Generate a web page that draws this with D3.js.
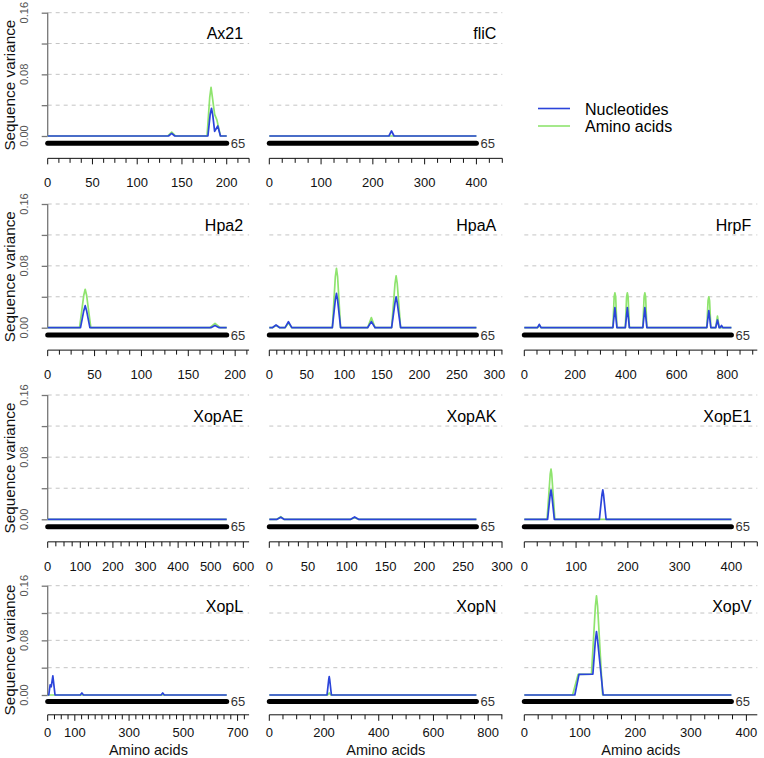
<!DOCTYPE html>
<html><head><meta charset="utf-8">
<script src="https://cdn.jsdelivr.net/npm/d3@7"></script>
<style>
body{margin:0;background:#fff}
svg{display:block;font-family:"Liberation Sans",Arial,Helvetica,sans-serif}
</style>
</head><body><svg id="c" width="764" height="758"></svg>
<script>
// ---------------- data ----------------
const genes = ["Ax21","fliC","Hpa2","HpaA","HrpF","XopAE","XopAK","XopE1","XopL","XopN","XopV"];
const proteinLength = [200, 400, 191, 276, 816, 549, 267, 400, 660, 757, 373];
const seqCount = [65, 65, 65, 65, 65, 65, 65, 65, 65, 65, 65];
const tickLabels = [
  [0,50,100,150,200],
  [0,100,200,300,400],
  [0,50,100,150,200],
  [0,50,100,150,200,250,300],
  [0,200,400,600,800],
  [0,100,200,300,400,500,600],
  [0,50,100,150,200,250,300],
  [0,100,200,300,400],
  [0,100,300,500,700],
  [0,200,400,600,800],
  [0,100,200,300,400]
];
const minorStep = [12.5, 25, 12.5, 10, 50, 25, 12.5, 25, 25, 50, 25];
const yTicks = [0, 0.04, 0.08, 0.12, 0.16];
const yLabels = [0, 0.08, 0.16];
const seriesNames = ["Nucleotides", "Amino acids"];

// sequence variance, [position, variance]
const ntAx21 = [[0,0],[135,0],[138.5,0.0035],[142,0],[179,0],[181.5,0.028],[183,0.036],[184.5,0.026],[186.5,0.006],[190,0.013],[193,0],[200,0]];
const aaAx21 = [[0,0],[134,0],[138.5,0.005],[143,0],[178,0],[181,0.05],[182.5,0.063],[184,0.05],[186.5,0.028],[189,0.021],[193,0],[200,0]];
const ntFliC = [[0,0],[231,0],[236,0.0065],[241,0],[400,0]];
const aaFliC = [[0,0],[400,0]];
const ntHpa2 = [[0,0],[35,0],[38.5,0.022],[40,0.0285],[41.5,0.022],[45,0],[174,0],[178.5,0.003],[183,0],[191,0]];
const aaHpa2 = [[0,0],[34,0],[38.5,0.042],[40,0.0497],[41.5,0.042],[46,0],[173,0],[178.5,0.0057],[184,0],[191,0]];
const ntHpaA = [[0,0],[4,0],[9,0.0035],[14,0],[21,0],[25.5,0.0078],[30,0],[84,0],[88,0.036],[89.5,0.0445],[91,0.036],[95,0],[131,0],[136,0.0078],[141,0],[163,0],[167.5,0.032],[169,0.040],[170.5,0.032],[175,0],[276,0]];
const aaHpaA = [[0,0],[4,0],[9,0.003],[14,0],[21,0],[25.5,0.006],[30,0],[84,0],[88,0.066],[89.5,0.0768],[91,0.066],[95,0],[131,0],[136,0.013],[141,0],[163,0],[167.5,0.057],[169,0.067],[170.5,0.057],[175,0],[276,0]];
const ntHrpF = [[0,0],[52,0],[59,0.0044],[66,0],[349,0],[357,0.026],[365,0],[398,0],[406,0.026],[414,0],[467,0],[475,0.026],[483,0],[719,0],[727,0.022],[735,0],[754,0],[761,0.010],[768,0],[772,0],[777,0.003],[782,0],[816,0]];
const aaHrpF = [[0,0],[52,0],[59,0.003],[66,0],[349,0],[354,0.04],[357,0.045],[360,0.04],[365,0],[398,0],[403,0.04],[406,0.045],[409,0.04],[414,0],[467,0],[472,0.04],[475,0.045],[478,0.04],[483,0],[719,0],[724,0.035],[727,0.040],[730,0.035],[735,0],[754,0],[761,0.015],[768,0],[816,0]];
const ntXopAE = [[0,0],[549,0]];
const aaXopAE = [[0,0],[549,0]];
const ntXopAK = [[0,0],[10,0],[14.8,0.0027],[19,0],[105,0],[110,0.003],[115,0],[267,0]];
const aaXopAK = [[0,0],[10,0],[14.8,0.0035],[19,0],[105,0],[110,0.002],[115,0],[267,0]];
const ntXopE1 = [[0,0],[45,0],[50,0.032],[51.6,0.038],[53,0.032],[58,0],[145,0],[150,0.032],[151.6,0.038],[153,0.032],[158,0],[400,0]];
const aaXopE1 = [[0,0],[44,0],[50,0.058],[51.6,0.0647],[53,0.058],[59,0],[400,0]];
const ntXopL = [[0,0],[4,0],[9,0.015],[13,0.012],[19,0.028],[27,0],[120,0],[126,0.003],[132,0],[418,0],[424,0.003],[430,0],[660,0]];
const aaXopL = [[0,0],[660,0]];
const ntXopN = [[0,0],[211,0],[217,0.022],[219,0.027],[221,0.022],[227,0],[757,0]];
const aaXopN = [[0,0],[213,0],[219,0.003],[225,0],[757,0]];
const ntXopV = [[0,0],[91,0],[98.5,0.0303],[123.5,0.0305],[128,0.08],[130,0.0927],[132,0.08],[142,0],[373,0]];
const aaXopV = [[0,0],[87,0],[97,0.0303],[121,0.0305],[128,0.13],[130,0.145],[132,0.13],[141,0],[373,0]];

const ntSeries = [ntAx21, ntFliC, ntHpa2, ntHpaA, ntHrpF, ntXopAE, ntXopAK, ntXopE1, ntXopL, ntXopN, ntXopV];
const aaSeries = [aaAx21, aaFliC, aaHpa2, aaHpaA, aaHrpF, aaXopAE, aaXopAK, aaXopE1, aaXopL, aaXopN, aaXopV];

// ---------------- layout ----------------
const cols = [{x0:47.7, w:201.4},{x0:269.3, w:233},{x0:524.3, w:233}];
const rows = [{top:12.7, bot:136},{top:204, bot:327.7},{top:395, bot:519.3},{top:585.7, bot:695}];
const cells = [[0,0],[0,1],[1,0],[1,1],[1,2],[2,0],[2,1],[2,2],[3,0],[3,1],[3,2]];
const ntColor = "#2b44da", aaColor = "#8fe46e";

const svg = d3.select("#c");

genes.forEach((g, i) => {
  const [ri, ci] = cells[i];
  const R = rows[ri], C = cols[ci];
  const L = proteinLength[i];
  const x = d3.scaleLinear().domain([0, L * 1.125]).range([C.x0, C.x0 + C.w]);
  const y = d3.scaleLinear().domain([0, 0.16]).range([R.bot, R.top]);
  const G = svg.append("g");

  // dashed grid
  G.selectAll("line.grid").data(yTicks.filter(v => v > 0)).join("line")
    .attr("x1", C.x0).attr("x2", C.x0 + C.w)
    .attr("y1", d => y(d)).attr("y2", d => y(d))
    .attr("stroke", "#c4c4c4").attr("stroke-width", 1).attr("stroke-dasharray", "4,4");

  // y axis on first column
  if (ci === 0) {
    const ya = G.append("g").attr("transform", `translate(${C.x0},0)`)
      .call(d3.axisLeft(y).tickValues(yTicks).tickSize(6).tickFormat(() => ""));
    ya.select(".domain").attr("stroke", "#777").attr("stroke-width", 1.3).attr("d", `M0,${y(0)}V${y(0.16)}`);
    ya.selectAll(".tick line").attr("stroke", "#777").attr("stroke-width", 1.3);
    G.selectAll("text.ylab").data(yLabels).join("text")
      .attr("transform", d => `translate(${C.x0 - 20},${y(d)}) rotate(-90)`)
      .attr("text-anchor", "middle").attr("font-size", 11).attr("fill", "#555")
      .text(d => d3.format(".2f")(d));
    G.append("text")
      .attr("transform", `translate(${C.x0 - 33},${y(0.066)}) rotate(-90)`)
      .attr("text-anchor", "middle").attr("font-size", 15.3).attr("fill", "#111")
      .text("Sequence variance");
  }

  // series
  const line = d3.line().x(d => x(d[0])).y(d => y(d[1]));
  G.append("path").datum(aaSeries[i]).attr("d", line)
    .attr("fill", "none").attr("stroke", aaColor).attr("stroke-width", 1.7).attr("stroke-linejoin", "round");
  G.append("path").datum(ntSeries[i]).attr("d", line)
    .attr("fill", "none").attr("stroke", ntColor).attr("stroke-width", 1.7).attr("stroke-linejoin", "round");

  // coverage bar
  const yb = y(-0.0095);
  G.append("line").attr("x1", x(0)).attr("x2", x(L)).attr("y1", yb).attr("y2", yb)
    .attr("stroke", "#000").attr("stroke-width", 5).attr("stroke-linecap", "round");
  G.append("text").attr("x", x(L) + 4).attr("y", yb).attr("dy", "0.36em")
    .attr("font-size", 13).attr("fill", "#333").text(seqCount[i]);

  // x axis
  const ya0 = y(-0.029);
  const dmax = L * 1.125;
  const minors = d3.range(0, dmax + 1e-6, minorStep[i]);
  G.append("line").attr("x1", x(0)).attr("x2", x(dmax)).attr("y1", ya0).attr("y2", ya0)
    .attr("stroke", "#111").attr("stroke-width", 1);
  G.selectAll("line.mt").data(minors).join("line")
    .attr("x1", d => x(d)).attr("x2", d => x(d)).attr("y1", ya0)
    .attr("y2", d => ya0 + (tickLabels[i].includes(d) ? 6 : 4.5))
    .attr("stroke", "#111").attr("stroke-width", 1);
  const labY = ri === 3 ? y(-0.055) : y(-0.06);
  G.selectAll("text.xl").data(tickLabels[i]).join("text")
    .attr("x", d => x(d)).attr("y", labY).attr("dy", "0.36em")
    .attr("text-anchor", "middle").attr("font-size", 13).attr("fill", "#111")
    .text(d => d);

  // title
  G.append("text").attr("x", C.x0 + C.w - 6).attr("y", R.top + 26.5)
    .attr("text-anchor", "end").attr("font-size", 16).attr("fill", "#000").text(g);

  if (ri === 3) {
    G.append("text").attr("x", C.x0 + C.w / 2).attr("y", 754.5)
      .attr("text-anchor", "middle").attr("font-size", 14.5).attr("fill", "#111").text("Amino acids");
  }
});

// legend
const leg = svg.append("g");
const legColors = [ntColor, aaColor];
seriesNames.forEach((s, k) => {
  const yy = 108.5 + k * 17.5;
  leg.append("line").attr("x1", 538).attr("x2", 570).attr("y1", yy).attr("y2", yy)
    .attr("stroke", legColors[k]).attr("stroke-width", 1.6);
  leg.append("text").attr("x", 585).attr("y", yy + 6).attr("font-size", 16).attr("fill", "#000").text(s);
});
</script>
</body></html>
